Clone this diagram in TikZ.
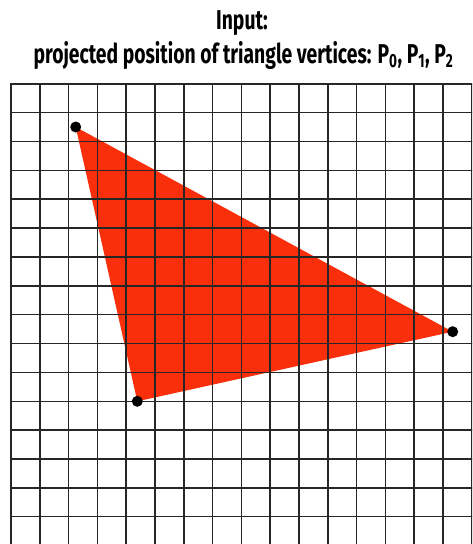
\documentclass[tikz,border=0pt]{standalone}
\usepackage{fontspec}
\newfontfamily\titlefont{Fira Sans}[FakeStretch=0.71]
\definecolor{trired}{RGB}{249,46,10}
\tikzset{
  gridline/.style={line width=1.5pt, draw=black!85},
  vertexdot/.style={circle, fill=black, inner sep=0pt, minimum size=11pt},
  titletext/.style={font=\titlefont\bfseries\fontsize{27.2}{33}\selectfont, align=center, inner sep=0pt, anchor=base}
}
\begin{document}
\begin{tikzpicture}[x=1pt,y=-1pt]
\useasboundingbox (0,0) rectangle (472,544);
\node[titletext] (t1) at (242,29.3) {Input:};
\node[titletext] (t2) at (243.5,63) {projected position of triangle vertices: P\textsubscript{0}, P\textsubscript{1}, P\textsubscript{2}};
\coordinate (P0) at (75.7,127);
\coordinate (P1) at (137.3,401.3);
\coordinate (P2) at (452.7,331.7);
\fill[trired] (P0) -- (P1) -- (P2) -- cycle;
\begin{scope}
\clip (0,0) rectangle (472,544);
\foreach \i in {0,...,16} {
  \draw[gridline] ({11+28.8*\i},83.5) -- ({11+28.8*\i},546);
}
\foreach \j in {0,...,16} {
  \draw[gridline] (10.2,{83.8+28.86*\j}) -- (474,{83.8+28.86*\j});
}
\end{scope}
\node[vertexdot] (d0) at (P0) {};
\node[vertexdot] (d1) at (P1) {};
\node[vertexdot] (d2) at (P2) {};
\end{tikzpicture}
\end{document}
